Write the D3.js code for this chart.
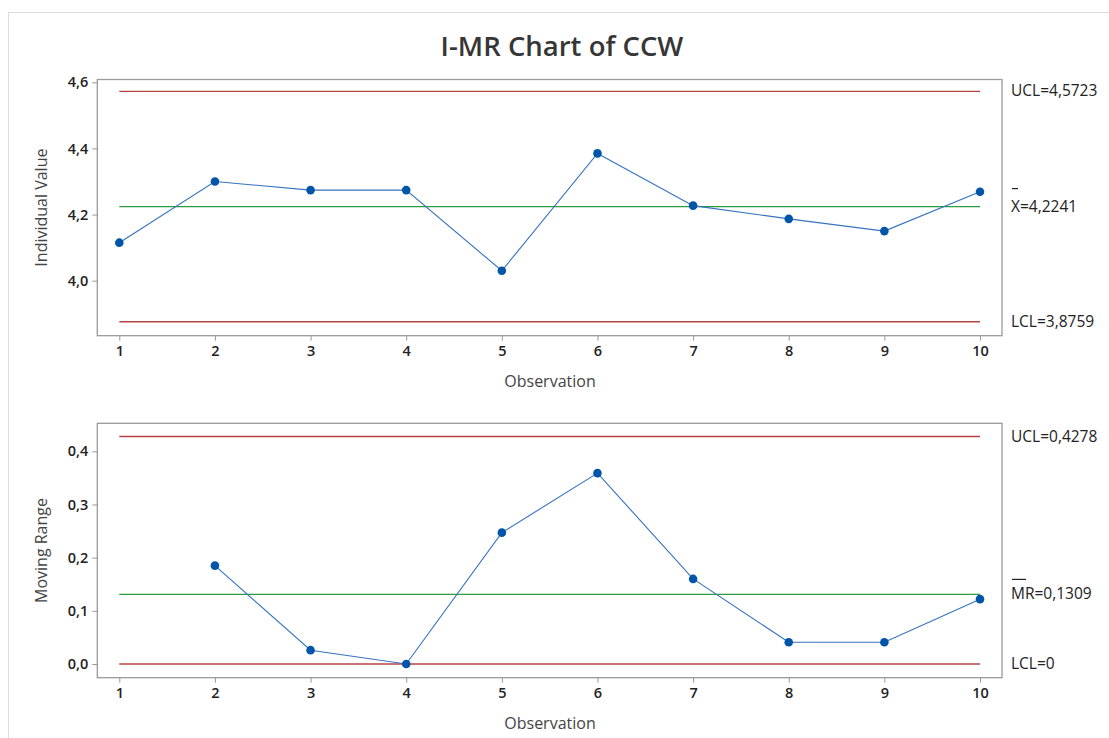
<!DOCTYPE html>
<html>
<head>
<meta charset="utf-8">
<script src="https://cdn.jsdelivr.net/npm/d3@7"></script>
<style>
  body { margin: 0; background: #fff; }
  text { font-family: 'Open Sans', 'Noto Sans', sans-serif; }
  .tick text { font-size: 14.5px; fill: #222; font-weight: 600; }
  .axis path, .axis line { stroke: #999; }
</style>
</head>
<body>
<div id="chart-area"></div>
<script>
'use strict';
const svg_width = 1109;
const svg_height = 738;

const observations = [1, 2, 3, 4, 5, 6, 7, 8, 9, 10];
const individual_values = [4.115, 4.300, 4.274, 4.274, 4.030, 4.385, 4.227, 4.187, 4.150, 4.269];
const moving_ranges = [null, 0.185, 0.026, 0.000, 0.247, 0.359, 0.160, 0.041, 0.041, 0.122];
const i_ticks = [4.0, 4.2, 4.4, 4.6];
const mr_ticks = [0.0, 0.1, 0.2, 0.3, 0.4];
const i_limits = { ucl: 4.5723, center: 4.2241, lcl: 3.8759 };
const mr_limits = { ucl: 0.4278, center: 0.1309, lcl: 0 };
const i_labels = ['UCL=4,5723', 'X=4,2241', 'LCL=3,8759'];
const mr_labels = ['UCL=0,4278', 'MR=0,1309', 'LCL=0'];

const comma = v => d3.format('.1f')(v).replace('.', ',');

const svg = d3.select('#chart-area')
  .append('svg')
    .attr('width', svg_width)
    .attr('height', svg_height);

// outer frame
svg.append('rect')
  .attr('x', 8.5).attr('y', 12.5)
  .attr('width', svg_width + 20).attr('height', svg_height + 20)
  .attr('fill', 'none').attr('stroke', '#ddd');

svg.append('text')
  .attr('x', 562).attr('y', 56)
  .attr('text-anchor', 'middle')
  .style('font-size', '27.5px').style('font-weight', 600).style('fill', '#363636')
  .text('I-MR Chart of CCW');

const x_scale = d3.scaleLinear().domain([1, 10]).range([119.3, 980]);

const panel = (cfg) => {
  const y_scale = d3.scaleLinear().domain(cfg.domain).range(cfg.range);
  const g = svg.append('g');
  const left = x_scale(1) - 22, right = x_scale(10) + 22;

  g.append('rect')
    .attr('x', left).attr('y', cfg.top)
    .attr('width', right - left).attr('height', cfg.bottom - cfg.top)
    .attr('fill', 'none').attr('stroke', '#9a9a9a').attr('stroke-width', 1.3);

  const x_axis = d3.axisBottom(x_scale).tickValues(observations).tickSize(5).tickPadding(5).tickSizeOuter(0);
  g.append('g')
    .attr('class', 'axis')
    .attr('transform', `translate(0,${cfg.bottom})`)
    .call(x_axis)
    .call(a => a.select('.domain').remove());

  const y_axis = d3.axisLeft(y_scale).tickValues(cfg.ticks).tickFormat(comma).tickSize(5).tickPadding(4);
  g.append('g')
    .attr('class', 'axis')
    .attr('transform', `translate(${left},0)`)
    .call(y_axis)
    .call(a => a.select('.domain').remove());

  const lines = [
    [cfg.limits.ucl, '#b94343'],
    [cfg.limits.center, '#2e9a3f'],
    [cfg.limits.lcl, '#b94343']
  ];
  g.selectAll('line.limit').data(lines).enter()
    .append('line')
      .attr('class', 'limit')
      .attr('x1', x_scale(1)).attr('x2', x_scale(10))
      .attr('y1', d => y_scale(d[0])).attr('y2', d => y_scale(d[0]))
      .attr('stroke', d => d[1]).attr('stroke-width', 1.3);

  const pts = observations.map((o, i) => ({ o: o, v: cfg.values[i] })).filter(d => d.v !== null);
  g.append('path')
    .datum(pts)
    .attr('fill', 'none').attr('stroke', '#3572c0').attr('stroke-width', 1.1)
    .attr('d', d3.line().x(d => x_scale(d.o)).y(d => y_scale(d.v)));
  g.selectAll('circle').data(pts).enter()
    .append('circle')
      .attr('cx', d => x_scale(d.o)).attr('cy', d => y_scale(d.v))
      .attr('r', 4.3).attr('fill', '#0055a8');

  // right-hand limit labels
  g.selectAll('text.lbl').data(cfg.labels).enter()
    .append('text')
      .attr('class', 'lbl')
      .attr('x', 1011)
      .attr('y', (d, i) => y_scale(lines[i][0]) + 5)
      .style('font-size', '15.5px').style('fill', '#222')
      .text(d => d);
  g.append('line')
    .attr('x1', 1012).attr('x2', 1012 + cfg.bar_w)
    .attr('y1', y_scale(cfg.limits.center) + cfg.bar_dy)
    .attr('y2', y_scale(cfg.limits.center) + cfg.bar_dy)
    .attr('stroke', '#222').attr('stroke-width', 1.2);

  g.append('text')
    .attr('transform', `translate(47,${(cfg.top + cfg.bottom) / 2}) rotate(-90)`)
    .attr('text-anchor', 'middle')
    .style('font-size', '16px').style('fill', '#444')
    .text(cfg.title);

  g.append('text')
    .attr('x', 550).attr('y', cfg.bottom + 51)
    .attr('text-anchor', 'middle')
    .style('font-size', '16px').style('fill', '#444')
    .text('Observation');
};

panel({
  domain: [4.0, 4.6], range: [280.7, 82.3], top: 79.5, bottom: 335.7,
  ticks: i_ticks, values: individual_values, limits: i_limits,
  labels: i_labels, bar_w: 6, bar_dy: -18,
  title: 'Individual Value'
});

panel({
  domain: [0, 0.4], range: [664, 451.3], top: 423.3, bottom: 677.7,
  ticks: mr_ticks, values: moving_ranges, limits: mr_limits,
  labels: mr_labels, bar_w: 14, bar_dy: -15,
  title: 'Moving Range'
});
</script>
</body>
</html>
